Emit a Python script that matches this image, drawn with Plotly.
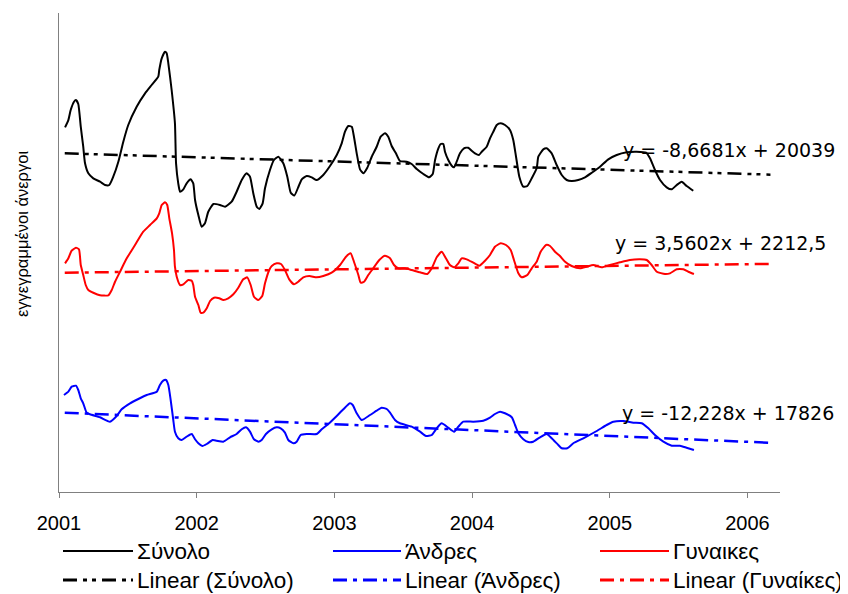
import plotly.graph_objects as go

# ---------------- data ----------------
# time in decimal years, values = registered unemployed
black_t = [2001.044, 2001.068, 2001.085, 2001.109, 2001.123, 2001.140, 2001.158, 2001.176, 2001.189, 2001.213,
           2001.249, 2001.298, 2001.334, 2001.365, 2001.394, 2001.431, 2001.467, 2001.503, 2001.564, 2001.625,
           2001.673, 2001.721, 2001.728, 2001.746, 2001.770, 2001.782, 2001.794, 2001.818, 2001.842, 2001.850,
           2001.866, 2001.879, 2001.903, 2001.927, 2001.956, 2001.975, 2001.988, 2002.012, 2002.036, 2002.060,
           2002.084, 2002.121, 2002.169, 2002.206, 2002.254, 2002.290, 2002.327, 2002.363, 2002.387, 2002.411,
           2002.436, 2002.455, 2002.479, 2002.496, 2002.532, 2002.561, 2002.593, 2002.629, 2002.658, 2002.683,
           2002.709, 2002.741, 2002.763, 2002.799, 2002.835, 2002.871, 2002.919, 2002.968, 2003.017, 2003.053,
           2003.077, 2003.101, 2003.126, 2003.142, 2003.162, 2003.186, 2003.210, 2003.239, 2003.271, 2003.307,
           2003.336, 2003.367, 2003.391, 2003.416, 2003.447, 2003.476, 2003.525, 2003.561, 2003.598, 2003.646,
           2003.687, 2003.714, 2003.731, 2003.755, 2003.772, 2003.791, 2003.803, 2003.827, 2003.852, 2003.869,
           2003.888, 2003.912, 2003.941, 2003.972, 2003.997, 2004.021, 2004.050, 2004.070, 2004.106, 2004.130,
           2004.154, 2004.179, 2004.208, 2004.239, 2004.275, 2004.299, 2004.319, 2004.343, 2004.372, 2004.401,
           2004.433, 2004.469, 2004.481, 2004.517, 2004.542, 2004.578, 2004.614, 2004.651, 2004.687, 2004.723,
           2004.771, 2004.820, 2004.869, 2004.929, 2004.989, 2005.050, 2005.123, 2005.195, 2005.263, 2005.292,
           2005.328, 2005.365, 2005.413, 2005.450, 2005.486, 2005.522, 2005.558, 2005.606]
black_v = [20680, 20860, 21113, 21320, 21363, 21263, 20695, 20195, 19780, 19530,
           19405, 19320, 19238, 19238, 19445, 19820, 20320, 20738, 21195, 21530,
           21738, 21945, 22113, 22405, 22570, 22530, 22280, 21613, 20780, 19780,
           19280, 19070, 19130, 19280, 19380, 19280, 18863, 18488, 18195, 18280,
           18570, 18763, 18738, 18695, 18820, 19070, 19363, 19530, 19445, 19030,
           18695, 18638, 18780, 19155, 19613, 19863, 19945, 19780, 19445, 19045,
           18975, 19213, 19380, 19463, 19430, 19363, 19488, 19713, 19988, 20280,
           20570, 20713, 20695, 20445, 20030, 19630, 19530, 19670, 19945, 20195,
           20445, 20530, 20445, 20213, 20030, 19838, 19820, 19763, 19638, 19513,
           19430, 19513, 19863, 20155, 20263, 20263, 20070, 19863, 19720, 19680,
           19820, 20030, 20155, 20170, 20095, 20030, 19988, 20070, 20195, 20405,
           20570, 20738, 20780, 20738, 20613, 20363, 19945, 19445, 19195, 19213,
           19405, 19655, 19945, 20130, 20155, 20030, 19738, 19488, 19363, 19338,
           19363, 19430, 19545, 19695, 19880, 19988, 20055, 20070, 20045, 19905,
           19613, 19363, 19180, 19130, 19238, 19320, 19213, 19095]

blue_t = [2001.036, 2001.068, 2001.092, 2001.123, 2001.140, 2001.158, 2001.176, 2001.201, 2001.225, 2001.298,
          2001.370, 2001.419, 2001.455, 2001.516, 2001.576, 2001.637, 2001.710, 2001.733, 2001.757, 2001.777,
          2001.794, 2001.811, 2001.830, 2001.842, 2001.866, 2001.891, 2001.927, 2001.964, 2001.988, 2002.012,
          2002.041, 2002.073, 2002.116, 2002.145, 2002.193, 2002.242, 2002.290, 2002.327, 2002.358, 2002.387,
          2002.416, 2002.447, 2002.472, 2002.503, 2002.545, 2002.581, 2002.610, 2002.641, 2002.665, 2002.702,
          2002.726, 2002.755, 2002.799, 2002.871, 2002.908, 2002.956, 2003.017, 2003.065, 2003.113, 2003.133,
          2003.162, 2003.198, 2003.259, 2003.307, 2003.343, 2003.380, 2003.404, 2003.440, 2003.476, 2003.561,
          2003.622, 2003.665, 2003.707, 2003.743, 2003.779, 2003.827, 2003.869, 2003.900, 2003.936, 2004.009,
          2004.081, 2004.130, 2004.166, 2004.203, 2004.239, 2004.288, 2004.312, 2004.336, 2004.372, 2004.408,
          2004.444, 2004.493, 2004.542, 2004.578, 2004.626, 2004.651, 2004.691, 2004.735, 2004.808, 2004.905,
          2004.977, 2005.026, 2005.098, 2005.171, 2005.232, 2005.280, 2005.328, 2005.389, 2005.450, 2005.510,
          2005.557, 2005.611]
blue_v = [18257, 18340, 18465, 18490, 18382, 18175, 18050, 17815, 17775, 17700,
          17590, 17732, 17900, 18050, 18157, 18257, 18340, 18507, 18615, 18632,
          18507, 18132, 17632, 17340, 17175, 17132, 17215, 17282, 17150, 17050,
          16982, 17032, 17132, 17115, 17090, 17200, 17282, 17400, 17450, 17340,
          17150, 17090, 17132, 17282, 17400, 17450, 17425, 17315, 17132, 17050,
          17090, 17257, 17282, 17282, 17400, 17532, 17732, 17900, 18050, 18007,
          17800, 17632, 17757, 17865, 17940, 17907, 17815, 17632, 17550, 17465,
          17340, 17232, 17257, 17425, 17550, 17440, 17340, 17465, 17590, 17590,
          17615, 17690, 17782, 17840, 17800, 17700, 17507, 17300, 17150, 17082,
          17090, 17200, 17282, 17175, 17007, 16925, 16925, 17050, 17175, 17357,
          17507, 17590, 17607, 17565, 17550, 17425, 17257, 17090, 16990, 16990,
          16940, 16882]

red_t = [2001.044, 2001.068, 2001.092, 2001.123, 2001.145, 2001.158, 2001.176, 2001.194, 2001.213, 2001.249,
         2001.298, 2001.358, 2001.383, 2001.407, 2001.443, 2001.492, 2001.552, 2001.612, 2001.661, 2001.710,
         2001.728, 2001.746, 2001.770, 2001.786, 2001.801, 2001.821, 2001.835, 2001.842, 2001.855, 2001.879,
         2001.903, 2001.939, 2001.964, 2001.975, 2001.988, 2002.012, 2002.029, 2002.048, 2002.073, 2002.097,
         2002.126, 2002.164, 2002.193, 2002.229, 2002.266, 2002.302, 2002.338, 2002.367, 2002.392, 2002.416,
         2002.447, 2002.476, 2002.496, 2002.527, 2002.545, 2002.581, 2002.612, 2002.641, 2002.672, 2002.707,
         2002.738, 2002.774, 2002.818, 2002.871, 2002.919, 2002.980, 2003.041, 2003.084, 2003.118, 2003.142,
         2003.174, 2003.191, 2003.215, 2003.246, 2003.282, 2003.326, 2003.367, 2003.404, 2003.433, 2003.464,
         2003.513, 2003.561, 2003.622, 2003.675, 2003.707, 2003.743, 2003.779, 2003.810, 2003.839, 2003.869,
         2003.900, 2003.924, 2003.961, 2004.009, 2004.052, 2004.094, 2004.130, 2004.166, 2004.208, 2004.246,
         2004.280, 2004.304, 2004.336, 2004.360, 2004.401, 2004.433, 2004.469, 2004.498, 2004.537, 2004.566,
         2004.602, 2004.638, 2004.675, 2004.723, 2004.784, 2004.832, 2004.880, 2004.941, 2005.001, 2005.074,
         2005.146, 2005.219, 2005.268, 2005.304, 2005.341, 2005.401, 2005.437, 2005.486, 2005.534, 2005.570,
         2005.611]
red_v = [2450, 2575, 2765, 2840, 2800, 2408, 2158, 1908, 1783, 1715,
         1650, 1650, 1783, 1990, 2240, 2575, 2908, 3240, 3408, 3575,
         3700, 3908, 3975, 3908, 3575, 3200, 2783, 2365, 2115, 1908,
         1925, 2033, 2015, 1908, 1615, 1408, 1215, 1215, 1325, 1508,
         1590, 1575, 1533, 1575, 1675, 1840, 2050, 2100, 1908, 1615,
         1533, 1633, 1950, 2283, 2383, 2450, 2433, 2283, 2050, 1925,
         1990, 2100, 2133, 2100, 2133, 2215, 2408, 2615, 2700, 2490,
         2158, 1965, 1990, 2158, 2325, 2533, 2640, 2575, 2408, 2325,
         2325, 2283, 2225, 2183, 2325, 2600, 2740, 2575, 2408, 2350,
         2450, 2575, 2550, 2465, 2390, 2515, 2658, 2865, 2950, 2908,
         2783, 2533, 2200, 2100, 2158, 2325, 2490, 2740, 2908, 2883,
         2740, 2633, 2490, 2383, 2325, 2365, 2408, 2350, 2408, 2475,
         2533, 2550, 2533, 2408, 2240, 2183, 2200, 2300, 2300, 2240,
         2183]

series_names = ["Σύνολο", "Άνδρες", "Γυναικες"]
trend_names = ["Linear (Σύνολο)", "Linear (Άνδρες)", "Linear (Γυναίκες)"]
trend_slope = [-8.6681, -12.228, 3.5602]
trend_intercept = [20039, 17826, 2212.5]
trend_labels = ["y = -8,6681x + 20039", "y = -12,228x + 17826", "y = 3,5602x + 2212,5"]
trend_index_range = [1, 62.5]      # monthly index (1 = Jan 2001), incl. forecast
year_ticks = [2001, 2002, 2003, 2004, 2005, 2006]
y_title = "εγγεγραμμένοι άνεργοι"

# ---------------- styling / layout ----------------
# the page body has an 8px default margin: figure is drawn 8px in from the window corner
OFF = 8
W, H = 848 - OFF, 594 - OFF
# plot area in window pixels
L, R, T, B = 59, 780, 13, 492
colors = ["#000000", "#0000FF", "#FF0000"]
FONT = "Liberation Sans, Arial, sans-serif"
EQFONT = "DejaVu Sans, Verdana, sans-serif"


def px(x):
    return (x - L) / (R - L)


def py(y):
    return (B - y) / (B - T)


def idx_to_year(i):
    return 2001 + (i - 0.5) / 12.0


fig = go.Figure()
data_sets = [(black_t, black_v, "y"), (blue_t, blue_v, "y2"), (red_t, red_v, "y3")]
for (t, v, ax), c, n in zip(data_sets, colors, series_names):
    fig.add_trace(go.Scatter(x=t, y=v, mode="lines", name=n, yaxis=ax,
                             line=dict(color=c, width=2, shape="spline", smoothing=0.5),
                             showlegend=False, hoverinfo="skip"))

dashes = ["14px,6px,4px,5px,4px,6px", "14px,6px,4px,6px", "14px,6px,4px,6px"]
for k, ((t, v, ax), c, n) in enumerate(zip(data_sets, colors, trend_names)):
    xs = [idx_to_year(i) for i in trend_index_range]
    ys = [trend_slope[k] * i + trend_intercept[k] for i in trend_index_range]
    fig.add_trace(go.Scatter(x=xs, y=ys, mode="lines", name=n, yaxis=ax,
                             line=dict(color=c, width=2.5, dash=dashes[k]),
                             showlegend=False, hoverinfo="skip"))

# hidden axis ranges so all three series share the same units-per-pixel scale
kscale = 25.0
span = kscale * (B - T)
y_ranges = [[23538 - span, 23538], [27807 - span, 27807], [8708 - span, 8708]]

fig.update_layout(
    width=W, height=H,
    margin=dict(l=L - OFF, r=(848 - R), t=T - OFF, b=(594 - B), autoexpand=False),
    paper_bgcolor="white", plot_bgcolor="white",
    font=dict(family=FONT, size=20, color="black"),
    showlegend=False,
    xaxis=dict(range=[2001, 2001 + (R - L) / 137.7], tickvals=year_ticks,
               ticktext=[str(y) for y in year_ticks], ticks="outside", ticklen=5,
               tickcolor="#808080", showline=True, linecolor="#808080", linewidth=1,
               showgrid=False, zeroline=False, tickfont=dict(size=20, family=FONT),
               ticklabelstandoff=8),
    yaxis=dict(range=y_ranges[0], showline=True, linecolor="#808080", linewidth=1,
               showticklabels=False, ticks="", showgrid=False, zeroline=False),
    yaxis2=dict(range=y_ranges[1], overlaying="y", visible=False),
    yaxis3=dict(range=y_ranges[2], overlaying="y", visible=False),
)

annotations = []
# trend equations
eq_pos = [(621, 150), (620, 413), (613, 243)]
for lab, (ex, ey) in zip(trend_labels, eq_pos):
    annotations.append(dict(xref="paper", yref="paper", x=px(ex), y=py(ey), text=lab,
                            showarrow=False, xanchor="left", yanchor="middle",
                            font=dict(size=19, family=EQFONT)))
# y title
annotations.append(dict(xref="paper", yref="paper", x=px(22), y=py(234), text=y_title,
                        textangle=-90, showarrow=False, xanchor="center", yanchor="middle",
                        font=dict(size=16.5, family=FONT)))

# custom legend
shapes = []
cols = [(63, 133, 135), (333, 401, 403), (600, 669, 671)]
rows = [551, 580]
for ci, (x0, x1, xt) in enumerate(cols):
    for ri, ry in enumerate(rows):
        if ri == 0:
            shapes.append(dict(type="line", xref="paper", yref="paper", x0=px(x0), x1=px(x1),
                               y0=py(ry), y1=py(ry), line=dict(color=colors[ci], width=2)))
            txt = series_names[ci]
        else:
            shapes.append(dict(type="line", xref="paper", yref="paper", x0=px(x0), x1=px(x1),
                               y0=py(ry), y1=py(ry), line=dict(color=colors[ci], width=3,
                                                              dash=dashes[ci])))
            txt = trend_names[ci]
        annotations.append(dict(xref="paper", yref="paper", x=px(xt), y=py(ry), text=txt,
                                showarrow=False, xanchor="left", yanchor="middle",
                                font=dict(size=22.5, family=FONT)))

fig.update_layout(annotations=annotations, shapes=shapes)
fig.write_html("out.html")
